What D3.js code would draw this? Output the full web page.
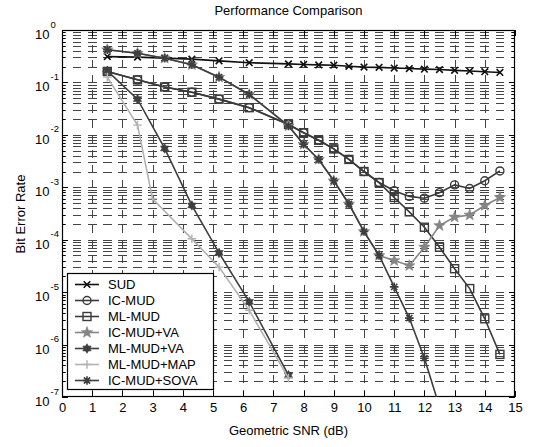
<!DOCTYPE html>
<html><head><meta charset="utf-8">
<script src="https://cdn.jsdelivr.net/npm/d3@7"></script>
<style>body{margin:0;background:#fff}svg{display:block}text{font-family:Arial,"Liberation Sans",sans-serif}</style>
</head><body><svg id="c" width="542" height="447"></svg>
<script>
// ---- data ----
const xTicks = [0,1,2,3,4,5,6,7,8,9,10,11,12,13,14,15];
const yDecades = [-7,-6,-5,-4,-3,-2,-1,0];
const snr = [1.5,2.5,3.4,4.3,5.2,6.2,7.5,8,8.5,9,9.5,10,10.5,11,11.5,12,12.5,13,13.5,14,14.5];
const sud = [0.311,0.304,0.291,0.278,0.258,0.238,0.226,0.220,0.216,0.213,0.203,0.196,0.194,0.188,0.184,0.179,0.176,0.170,0.165,0.160,0.155];
const icMud = [0.162,0.112,0.082,0.065,0.048,0.033,0.0158,0.011,0.0079,0.0054,0.0034,0.0020,0.00123,8.6e-4,6.7e-4,6.2e-4,7.9e-4,1.11e-3,9.5e-4,1.33e-3,2.05e-3];
const mlMud = [0.162,0.112,0.082,0.065,0.048,0.033,0.0158,0.011,0.0079,0.0054,0.0034,0.0020,0.00123,6.4e-4,3.4e-4,1.73e-4,7.2e-5,2.8e-5,1.17e-5,3.1e-6,6.5e-7];
const icMudVa = [0.42,0.36,0.29,0.217,0.126,0.059,0.0148,0.0066,0.0034,0.00133,4.8e-4,1.43e-4,5.0e-5,4.0e-5,3.2e-5,7.2e-5,1.86e-4,2.7e-4,2.96e-4,4.5e-4,6.4e-4];
const mlMudVaX = [1.5,2.5,3.4,4.3,5.2,6.2,7.5];
const mlMudVa = [0.166,0.048,0.0055,4.5e-4,5.6e-5,6.5e-6,2.6e-7];
const mlMudMapX = [1.5,2.5,3.0,4.3,5.2,6.2,7.5];
const mlMudMap = [0.126,0.0153,6.0e-4,1.04e-4,3.0e-5,4.5e-6,2.3e-7];
const icMudSovaX = [1.5,2.5,3.4,4.3,5.2,6.2,7.5,8,8.5,9,9.5,10,10.5,11,11.5,12,12.5];
const icMudSova = [0.42,0.36,0.29,0.217,0.126,0.059,0.0148,0.0066,0.0034,0.00133,4.8e-4,1.43e-4,5.0e-5,1.26e-5,3.2e-6,5.5e-7,6.5e-8];
const names = ["SUD","IC-MUD","ML-MUD","IC-MUD+VA","ML-MUD+VA","ML-MUD+MAP","IC-MUD+SOVA"];

// ---- chart ----
const svg = d3.select("#c");
const L=62,R=515,T=30,B=397;
const x = d3.scaleLinear().domain([0,15]).range([L,R]);
const y = d3.scaleLog().domain([1e-7,1]).range([B,T]);
const FS = 13;

const series = [
  {name:names[0], xs:snr, ys:sud, color:"#111", marker:"x"},
  {name:names[1], xs:snr, ys:icMud, color:"#3a3a3a", marker:"o"},
  {name:names[2], xs:snr, ys:mlMud, color:"#3a3a3a", marker:"s"},
  {name:names[3], xs:snr, ys:icMudVa, color:"#858585", marker:"p"},
  {name:names[4], xs:mlMudVaX, ys:mlMudVa, color:"#3e3e3e", marker:"h"},
  {name:names[5], xs:mlMudMapX, ys:mlMudMap, color:"#b2b2b2", marker:"+"},
  {name:names[6], xs:icMudSovaX, ys:icMudSova, color:"#3e3e3e", marker:"*"}
];

function starPath(n, ro, ri){
  let p=[];
  for(let i=0;i<2*n;i++){
    const r=i%2?ri:ro, a=-Math.PI/2+i*Math.PI/n;
    p.push([r*Math.cos(a), r*Math.sin(a)]);
  }
  return "M"+p.map(d=>d[0].toFixed(2)+","+d[1].toFixed(2)).join("L")+"Z";
}
function drawMarker(g, m, c){
  if(m==="x") g.append("path").attr("d","M-3.3,-3.3L3.3,3.3M-3.3,3.3L3.3,-3.3").attr("stroke",c).attr("stroke-width",1.6).attr("fill","none");
  else if(m==="o") g.append("circle").attr("r",4).attr("stroke",c).attr("stroke-width",1.4).attr("fill","none");
  else if(m==="s") g.append("rect").attr("x",-4).attr("y",-4).attr("width",8).attr("height",8).attr("stroke",c).attr("stroke-width",1.4).attr("fill","none");
  else if(m==="p") g.append("path").attr("d",starPath(5,6,2.5)).attr("fill",c).attr("stroke",c).attr("stroke-width",0.6);
  else if(m==="h") g.append("path").attr("d",starPath(6,4.8,2.8)).attr("fill",c).attr("stroke",c).attr("stroke-width",0.6);
  else if(m==="+") g.append("path").attr("d","M-4.3,0H4.3M0,-4.3V4.3").attr("stroke",c).attr("stroke-width",1.4).attr("fill","none");
  else if(m==="*") g.append("path").attr("d","M-4.3,0H4.3M0,-4.3V4.3M-3.1,-3.1L3.1,3.1M-3.1,3.1L3.1,-3.1").attr("stroke",c).attr("stroke-width",1.6).attr("fill","none");
}

svg.append("clipPath").attr("id","clip").append("rect").attr("x",L).attr("y",T).attr("width",R-L).attr("height",B-T);

// grid
const grid = svg.append("g").attr("stroke","#444").attr("stroke-width",1).attr("shape-rendering","crispEdges");
const yGridVals = yDecades.slice(0,-1).flatMap(k=>d3.range(1,10).map(m=>m*Math.pow(10,k))).filter(v=>v>1e-7 && v<1);
const unit = x(1)-x(0);
yGridVals.forEach(v=>{
  const yy=Math.round(y(v))+0.5;
  grid.append("line").attr("x1",L).attr("x2",R).attr("y1",yy).attr("y2",yy)
    .attr("stroke-dasharray",`${unit/2*0.58},${unit/2*0.42}`).attr("stroke-dashoffset",unit/2*0.29);
});
xTicks.filter(v=>v>0&&v<15).forEach(v=>{
  const xx=Math.round(x(v))+0.5;
  grid.append("line").attr("x1",xx).attr("x2",xx).attr("y1",T).attr("y2",B)
    .attr("stroke-dasharray","8,7");
});

// ticks inside
const tk = svg.append("g").attr("stroke","#000").attr("stroke-width",1).attr("shape-rendering","crispEdges");
xTicks.forEach(v=>{
  const xx=Math.round(x(v))+0.5;
  tk.append("line").attr("x1",xx).attr("x2",xx).attr("y1",B).attr("y2",B-6);
  tk.append("line").attr("x1",xx).attr("x2",xx).attr("y1",T).attr("y2",T+6);
});
yGridVals.concat(yDecades.map(k=>Math.pow(10,k))).forEach(v=>{
  const yy=Math.round(y(v))+0.5;
  const major = Math.abs(Math.log10(v)-Math.round(Math.log10(v)))<1e-9;
  const len = major?6:3;
  tk.append("line").attr("x1",L).attr("x2",L+len).attr("y1",yy).attr("y2",yy);
  tk.append("line").attr("x1",R).attr("x2",R-len).attr("y1",yy).attr("y2",yy);
});

// box
svg.append("rect").attr("x",L+0.5).attr("y",T+0.5).attr("width",R-L-1).attr("height",B-T-1)
  .attr("fill","none").attr("stroke","#000").attr("stroke-width",1.2);

// x tick labels via axis
const xa = svg.append("g").attr("transform",`translate(0,${B})`)
  .call(d3.axisBottom(x).tickValues(xTicks).tickSize(0).tickPadding(6).tickFormat(d3.format("d")));
xa.select(".domain").remove();
xa.selectAll("text").attr("font-size",FS).attr("font-family","Arial, Liberation Sans, sans-serif").attr("fill","#000");

// y tick labels
yDecades.forEach(k=>{
  const yy=y(Math.pow(10,k));
  svg.append("text").attr("x",49.5).attr("y",yy+9).attr("text-anchor","end").attr("font-size",FS).text("10");
  svg.append("text").attr("x",50.5).attr("y",yy-2.5).attr("font-size",9.5).text(String(k));
});

// titles
svg.append("text").attr("x",(L+R)/2).attr("y",15).attr("text-anchor","middle").attr("font-size",FS).text("Performance Comparison");
svg.append("text").attr("x",(L+R)/2).attr("y",435).attr("text-anchor","middle").attr("font-size",FS).text("Geometric SNR (dB)");
svg.append("text").attr("transform","translate(25,214) rotate(-90)").attr("text-anchor","middle").attr("font-size",FS).text("Bit Error Rate");

// series
const plot = svg.append("g").attr("clip-path","url(#clip)");
const line = d3.line().x(d=>x(d[0])).y(d=>y(d[1]));
series.forEach(s=>{
  const pts = s.xs.map((v,i)=>[v,s.ys[i]]);
  plot.append("path").attr("d",line(pts)).attr("fill","none").attr("stroke",s.color).attr("stroke-width",1.6);
  pts.filter(p=>p[1]>=1e-7).forEach(p=>{
    const g = plot.append("g").attr("transform",`translate(${x(p[0])},${y(p[1])})`);
    drawMarker(g, s.marker, s.color);
  });
});

// legend
const lg = svg.append("g");
lg.append("rect").attr("x",67.5).attr("y",273.5).attr("width",146).attr("height",116).attr("fill","#fff").attr("stroke","#000").attr("stroke-width",1.2);
series.forEach((s,i)=>{
  const yy = 284.5 + i*16;
  lg.append("line").attr("x1",75).attr("x2",99).attr("y1",yy).attr("y2",yy).attr("stroke",s.color).attr("stroke-width",1.6);
  const g = lg.append("g").attr("transform",`translate(87,${yy})`);
  drawMarker(g, s.marker, s.color);
  lg.append("text").attr("x",108).attr("y",yy+4.6).attr("font-size",FS).text(s.name);
});
</script></body></html>
